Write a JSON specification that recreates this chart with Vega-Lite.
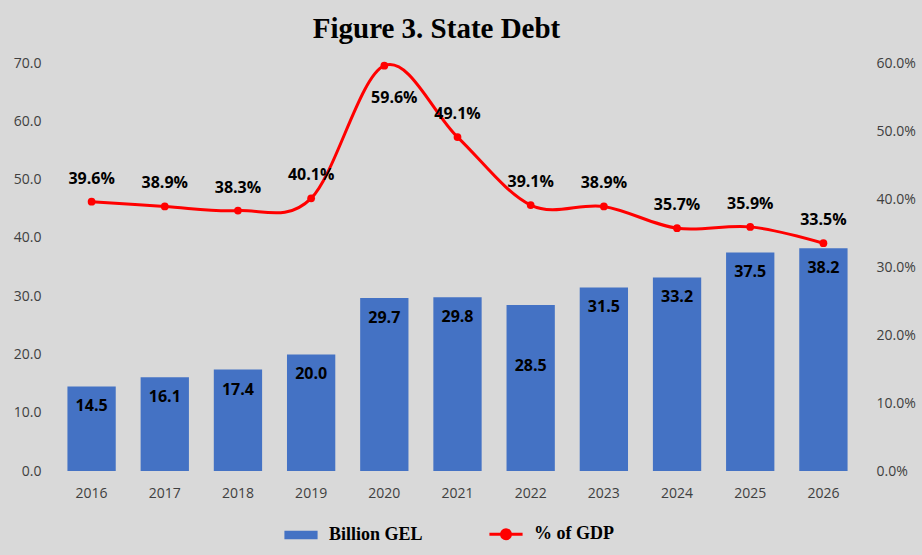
{
  "$schema": "https://vega.github.io/schema/vega-lite/v6.json",
  "width": 805,
  "height": 408,
  "autosize": "none",
  "padding": {"left": 55, "top": 63, "right": 62, "bottom": 84},
  "background": "#d9d9d9",
  "title": {
    "text": "Figure 3. State Debt",
    "font": "Liberation Serif",
    "fontSize": 29,
    "fontWeight": "bold",
    "color": "#000000",
    "anchor": "middle",
    "dx": -21,
    "offset": 12
  },
  "data": {
    "values": [
      {"year": "2016", "debt": 14.5, "pct": 39.6},
      {"year": "2017", "debt": 16.1, "pct": 38.9},
      {"year": "2018", "debt": 17.4, "pct": 38.3},
      {"year": "2019", "debt": 20.0, "pct": 40.1},
      {"year": "2020", "debt": 29.7, "pct": 59.6},
      {"year": "2021", "debt": 29.8, "pct": 49.1},
      {"year": "2022", "debt": 28.5, "pct": 39.1},
      {"year": "2023", "debt": 31.5, "pct": 38.9},
      {"year": "2024", "debt": 33.2, "pct": 35.7},
      {"year": "2025", "debt": 37.5, "pct": 35.9},
      {"year": "2026", "debt": 38.2, "pct": 33.5}
    ]
  },
  "transform": [{"calculate": "format(datum.pct, '.1f') + '%'", "as": "pct_label"}],
  "encoding": {
    "x": {
      "field": "year",
      "type": "ordinal",
      "title": null,
      "scale": {"paddingInner": 0.34, "paddingOuter": 0.17},
      "axis": {"labelAngle": 0, "ticks": false, "domain": false, "labelPadding": 15, "labelFontSize": 14, "labelFont": "Open Sans", "labelColor": "#404040"}
    }
  },
  "layer": [
    {
      "layer": [
        {
          "mark": {"type": "bar", "color": "#4472c4"},
          "encoding": {
            "y": {
              "field": "debt",
              "type": "quantitative",
              "title": null,
              "scale": {"domain": [0, 70]},
              "axis": {"values": [0, 10, 20, 30, 40, 50, 60, 70], "format": ".1f", "grid": false, "ticks": false, "domain": false, "labelPadding": 14, "labelFontSize": 14, "labelFont": "Open Sans", "labelColor": "#404040"}
            },
            "color": {
              "datum": "Billion GEL",
              "type": "nominal",
              "scale": {"domain": ["Billion GEL", "% of GDP"], "range": ["#4472c4", "#ff0000"]},
              "legend": {
                "title": null,
                "orient": "none",
                "legendX": 237,
                "legendY": 462,
                "direction": "horizontal",
                "columnPadding": 60,
                "labelFont": "Liberation Serif",
                "labelFontSize": 18,
                "labelFontWeight": "bold",
                "labelColor": "#000000",
                "labelOffset": 19,
                "symbolSize": 1100,
                "encode": {
                  "symbols": {
                    "update": {
                      "shape": {"signal": "datum.value === 'Billion GEL' ? 'M-1,-0.25H1V0.25H-1Z' : 'M-1,0H1M0.27,0A0.27,0.27,0,1,1,-0.27,0A0.27,0.27,0,1,1,0.27,0'"},
                      "fill": {"signal": "datum.value === 'Billion GEL' ? '#4472c4' : '#ff0000'"},
                      "stroke": {"value": "#ff0000"},
                      "strokeWidth": {"signal": "datum.value === 'Billion GEL' ? 0 : 3"},
                      "opacity": {"value": 1}
                    }
                  }
                }
              }
            }
          }
        },
        {
          "transform": [{"filter": "datum.year !== '2022'"}],
          "mark": {"type": "text", "baseline": "middle", "dy": 20, "fontSize": 16, "fontWeight": "bold", "font": "Open Sans", "color": "#000000"},
          "encoding": {
            "y": {"field": "debt", "type": "quantitative"},
            "text": {"field": "debt", "type": "quantitative", "format": ".1f"}
          }
        },
        {
          "transform": [{"filter": "datum.year === '2022'"}],
          "mark": {"type": "text", "baseline": "middle", "dy": 61, "fontSize": 16, "fontWeight": "bold", "font": "Open Sans", "color": "#000000"},
          "encoding": {
            "y": {"field": "debt", "type": "quantitative"},
            "text": {"field": "debt", "type": "quantitative", "format": ".1f"}
          }
        }
      ]
    },
    {
      "layer": [
        {
          "mark": {"type": "line", "interpolate": "cardinal", "strokeWidth": 3, "point": {"filled": true, "size": 60}},
          "encoding": {
            "y": {
              "field": "pct",
              "type": "quantitative",
              "title": null,
              "scale": {"domain": [0, 60]},
              "axis": {"orient": "right", "values": [0, 10, 20, 30, 40, 50, 60], "labelExpr": "format(datum.value, '.1f') + '%'", "grid": false, "ticks": false, "domain": false, "labelPadding": 16, "labelFontSize": 14, "labelFont": "Open Sans", "labelColor": "#404040"}
            },
            "color": {"datum": "% of GDP", "type": "nominal"}
          }
        },
        {
          "transform": [{"filter": "datum.year !== '2020'"}],
          "mark": {"type": "text", "baseline": "middle", "dy": -23, "fontSize": 16, "fontWeight": "bold", "font": "Open Sans", "color": "#000000"},
          "encoding": {
            "y": {"field": "pct", "type": "quantitative"},
            "text": {"field": "pct_label", "type": "nominal"}
          }
        },
        {
          "transform": [{"filter": "datum.year === '2020'"}],
          "mark": {"type": "text", "baseline": "middle", "dy": 32, "dx": 10, "fontSize": 16, "fontWeight": "bold", "font": "Open Sans", "color": "#000000"},
          "encoding": {
            "y": {"field": "pct", "type": "quantitative"},
            "text": {"field": "pct_label", "type": "nominal"}
          }
        }
      ]
    }
  ],
  "resolve": {"scale": {"y": "independent"}},
  "config": {"view": {"stroke": null}}
}
